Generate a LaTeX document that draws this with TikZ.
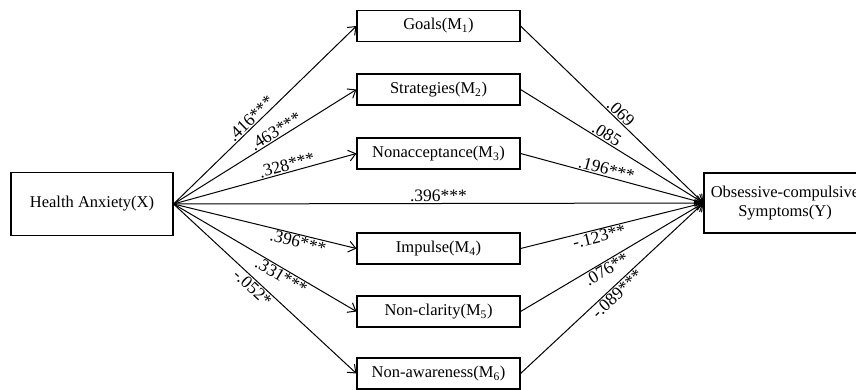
\documentclass[tikz,border=0pt]{standalone}
\usepackage{fontspec}
\setmainfont{Liberation Serif}
\usetikzlibrary{arrows.meta}
\begin{document}
\begin{tikzpicture}[x=1pt,y=-1pt,
  box/.style={draw,line width=1.1pt,inner sep=0pt,align=center,font=\fontsize{16.5}{19}\selectfont},
  medbox/.style={box,minimum width=163pt,minimum height=31pt},
  path/.style={line width=1pt,-{Straight Barb[length=7pt,width=11pt,line width=1pt]}},
  lab/.style={font=\fontsize{17.5}{19}\selectfont,sloped,inner sep=1pt}]
\useasboundingbox (0,0) rectangle (856,389);
\node[box,minimum width=162pt,minimum height=63pt] (x) at (92,204) {Health Anxiety(X)};
\node[box,minimum width=162pt,minimum height=60pt] (y) at (785,203) {Obsessive-compulsive\\Symptoms(Y)};
\node[medbox] (m1) at (438.5,26) {Goals(M\textsubscript{1})};
\node[medbox] (m2) at (438.5,89.5) {Strategies(M\textsubscript{2})};
\node[medbox] (m3) at (438.5,153.5) {Nonacceptance(M\textsubscript{3})};
\node[medbox] (m4) at (438.5,248.5) {Impulse(M\textsubscript{4})};
\node[medbox] (m5) at (438.5,311.5) {Non-clarity(M\textsubscript{5})};
\node[medbox] (m6) at (438.5,373.5) {Non-awareness(M\textsubscript{6})};
\draw[path] (x.east) -- node[lab,above,pos=0.45] {.416***} (m1.west);
\draw[path] (x.east) -- node[lab,above,pos=0.58] {.463***} (m2.west);
\draw[path] (x.east) -- node[lab,above,pos=0.63] {.328***} (m3.west);
\draw[path] (x.east) -- node[lab,below,pos=0.69] {.396***} (m4.west);
\draw[path] (x.east) -- node[lab,below,pos=0.61] {.331***} (m5.west);
\draw[path] (x.east) -- node[lab,below,pos=0.46] {-.052*} (m6.west);
\draw[path] (x.east) -- node[lab,above,pos=0.5] {.396***} (y.west);
\draw[path] (m1.east) -- node[lab,above,pos=0.52] {.069} (y.west);
\draw[path] (m2.east) -- node[lab,above,pos=0.45] {.085} (y.west);
\draw[path] (m3.east) -- node[lab,above,pos=0.46] {.196***} (y.west);
\draw[path] (m4.east) -- node[lab,below,pos=0.42] {-.123**} (y.west);
\draw[path] (m5.east) -- node[lab,below,pos=0.45] {.076**} (y.west);
\draw[path] (m6.east) -- node[lab,below,pos=0.5] {-.089***} (y.west);
\end{tikzpicture}
\end{document}
